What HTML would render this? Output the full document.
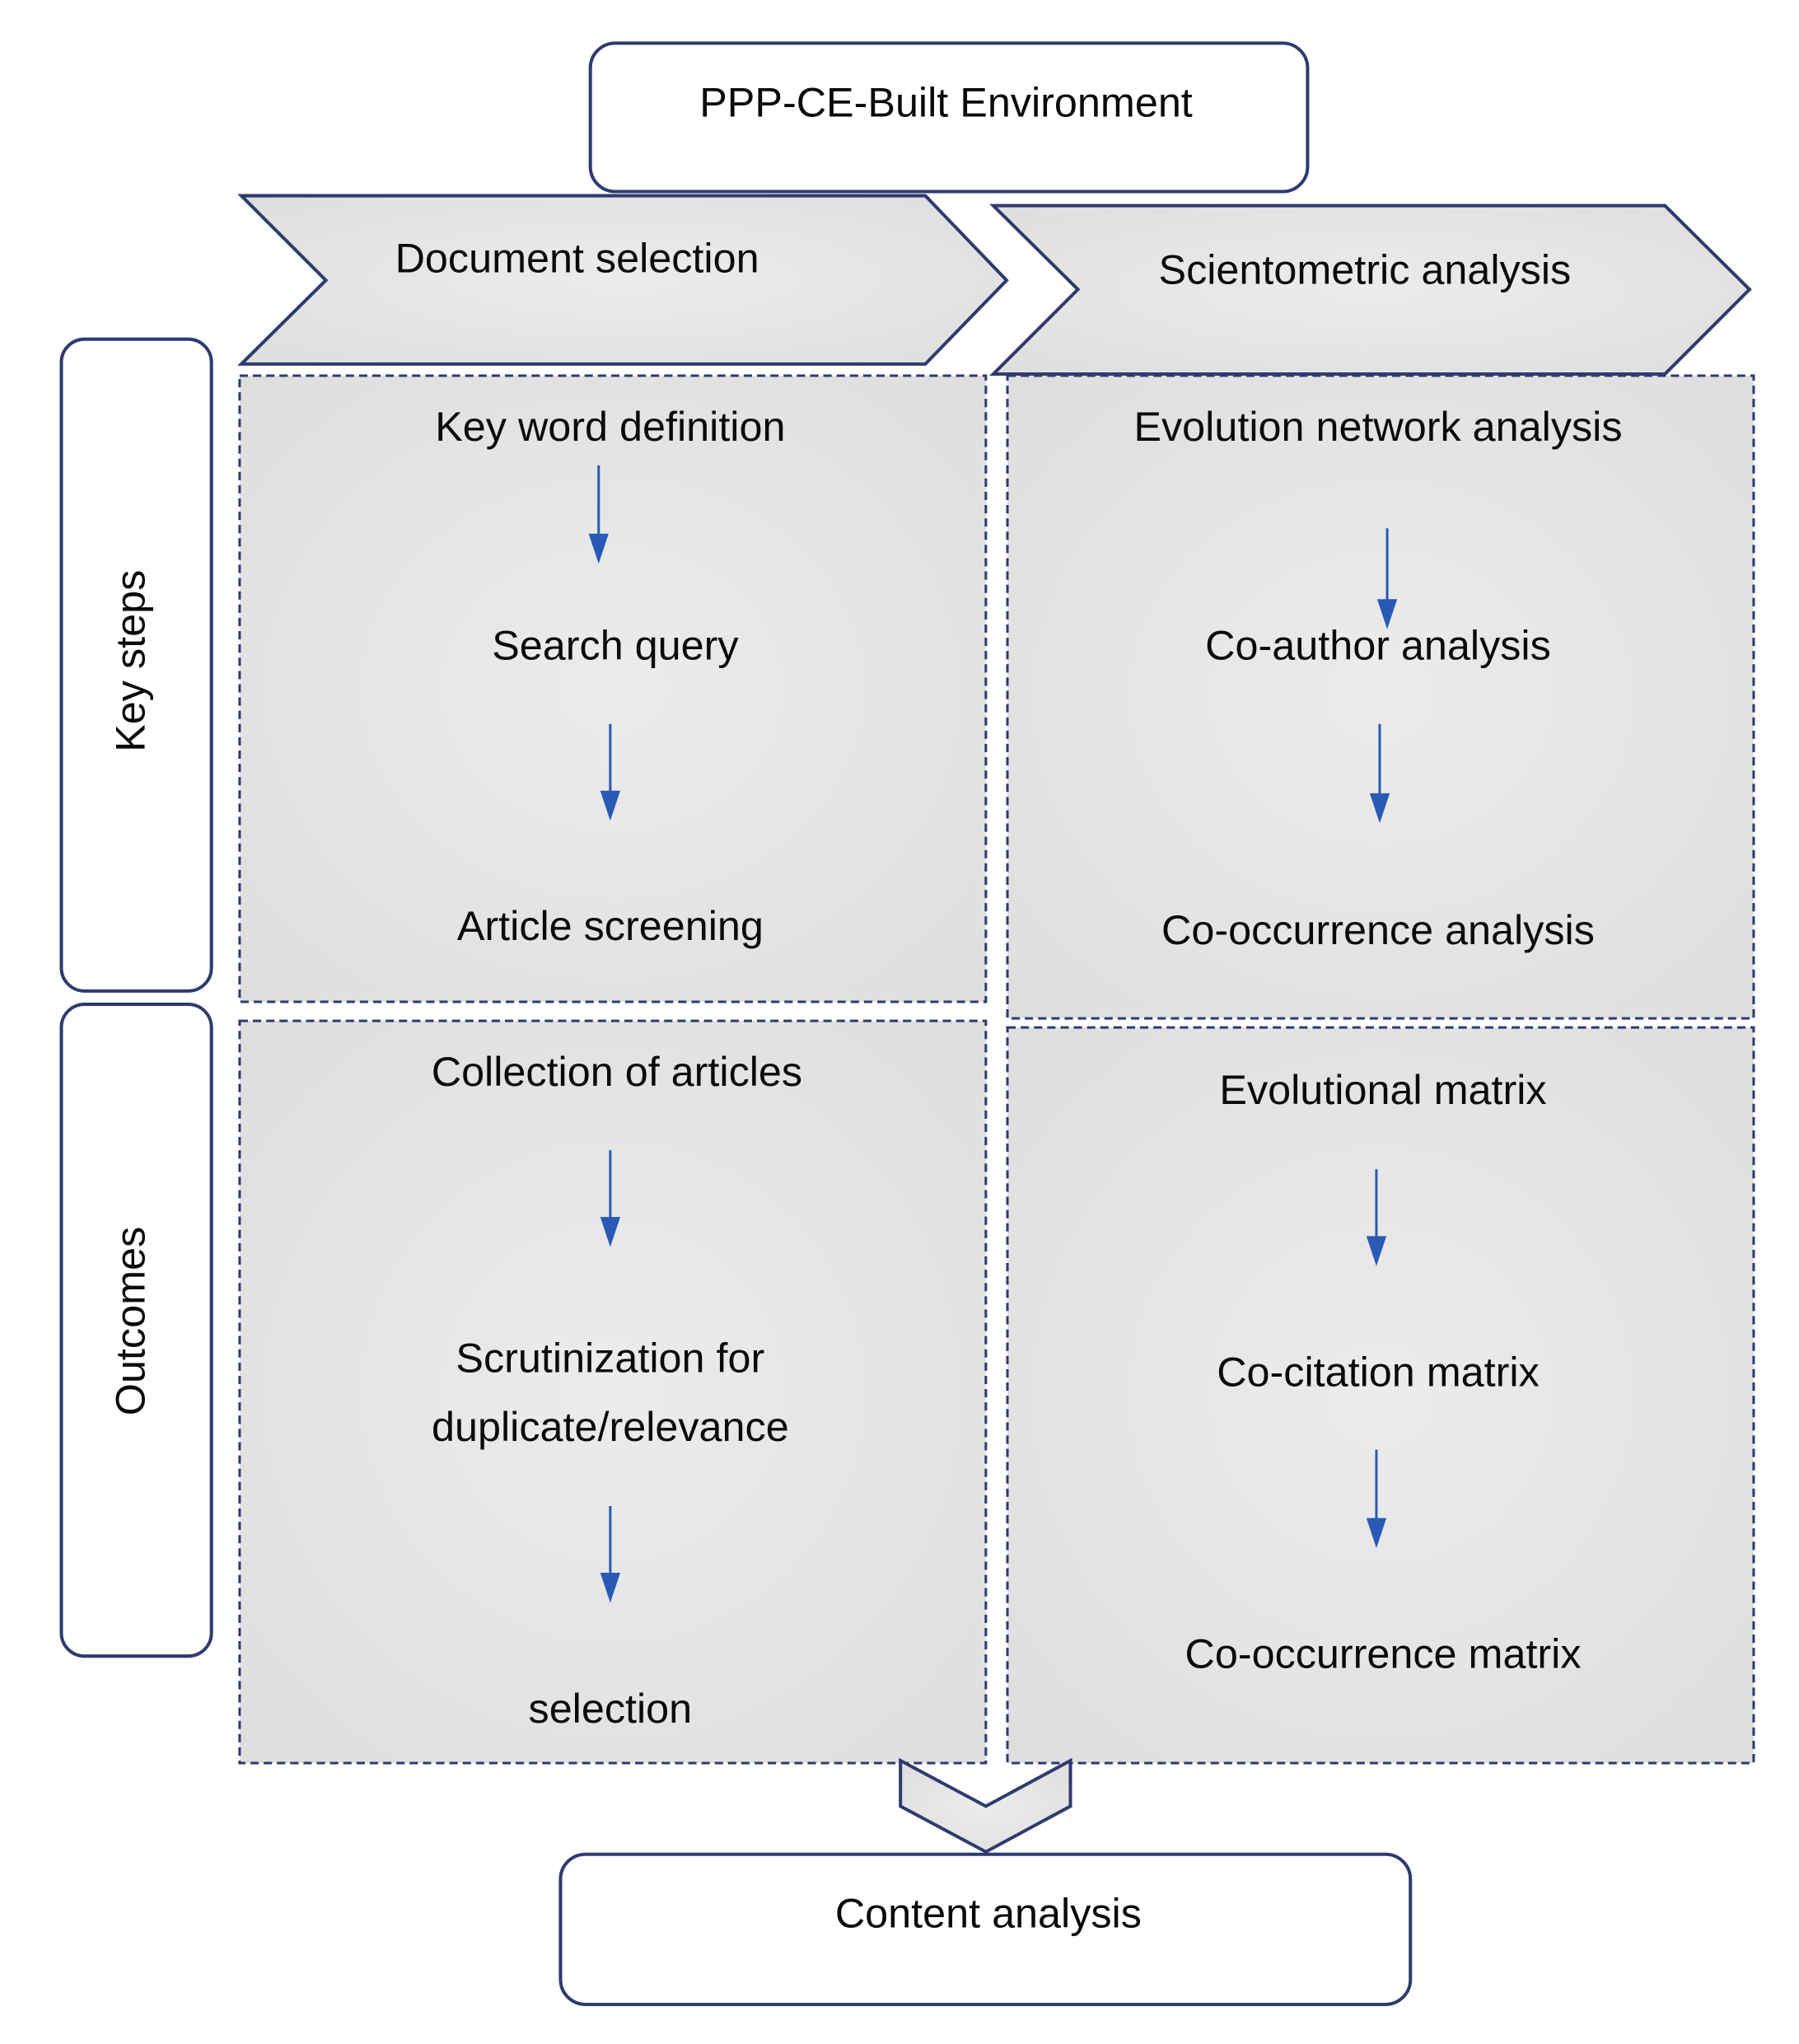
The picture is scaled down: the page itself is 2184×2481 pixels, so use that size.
<!DOCTYPE html>
<html><head><meta charset="utf-8"><style>html,body{margin:0;padding:0;background:#fff}</style></head>
<body>
<svg width="2184" height="2476" viewBox="0 0 2184 2476" xmlns="http://www.w3.org/2000/svg">
<defs>
<radialGradient id="g" cx="50%" cy="50%" r="70%"><stop offset="0" stop-color="#ececec"/><stop offset="1" stop-color="#dedede"/></radialGradient>
</defs>
<g transform="scale(1.0066)">
<g font-family="Liberation Sans, sans-serif" font-size="50" fill="#0a0a0a" text-anchor="middle" dominant-baseline="central">
<rect x="712" y="52" width="865" height="179" rx="30" fill="#fff" stroke="#2f3b6e" stroke-width="4"/>
<text x="1141" y="123">PPP-CE-Built Environment</text>
<polygon points="291,236 1116,236 1214,338 1116,439 291,439 393,338" fill="url(#g)" stroke="#2f3b6e" stroke-width="4"/>
<text x="696" y="311">Document selection</text>
<polygon points="1198,248 2008,248 2110,349 2008,451 1198,451 1300,349" fill="url(#g)" stroke="#2f3b6e" stroke-width="4"/>
<text x="1646" y="325">Scientometric analysis</text>
<g fill="url(#g)" stroke="#2f3b6e" stroke-width="3" stroke-dasharray="10,6">
<rect x="289" y="453" width="900" height="755"/>
<rect x="289" y="1231" width="900" height="895"/>
<rect x="1215" y="453" width="900" height="775"/>
<rect x="1215" y="1239" width="900" height="887"/>
</g>
<rect x="74" y="409" width="181" height="786" rx="28" fill="#fff" stroke="#2f3b6e" stroke-width="4"/>
<rect x="74" y="1211" width="181" height="786" rx="28" fill="#fff" stroke="#2f3b6e" stroke-width="4"/>
<text x="157" y="797" transform="rotate(-90 157 797)">Key steps</text>
<text x="157" y="1593" transform="rotate(-90 157 1593)">Outcomes</text>
<polygon points="1086,2123 1189,2178 1291,2123 1291,2178 1189,2233 1086,2178" fill="url(#g)" stroke="#2f3b6e" stroke-width="4"/>
<rect x="676" y="2236" width="1025" height="181" rx="30" fill="#fff" stroke="#2f3b6e" stroke-width="4"/>
<text x="1192" y="2307">Content analysis</text>
<text x="736" y="514">Key word definition</text>
<text x="742" y="778">Search query</text>
<text x="736" y="1116">Article screening</text>
<text x="1662" y="514">Evolution network analysis</text>
<text x="1662" y="778">Co-author analysis</text>
<text x="1662" y="1121">Co-occurrence analysis</text>
<text x="744" y="1292">Collection of articles</text>
<text x="736" y="1637">Scrutinization for</text>
<text x="736" y="1720">duplicate/relevance</text>
<text x="736" y="2060">selection</text>
<text x="1668" y="1314">Evolutional matrix</text>
<text x="1662" y="1654">Co-citation matrix</text>
<text x="1668" y="1994">Co-occurrence matrix</text>
</g>
<g stroke="#2a5ab5" stroke-width="3" fill="#2a5ab5">
<line x1="722" y1="561" x2="722" y2="650"/><polygon points="712,645 732,645 722,675"/>
<line x1="736" y1="873" x2="736" y2="960"/><polygon points="726,955 746,955 736,985"/>
<line x1="736" y1="1387" x2="736" y2="1474"/><polygon points="726,1469 746,1469 736,1499"/>
<line x1="736" y1="1816" x2="736" y2="1903"/><polygon points="726,1898 746,1898 736,1928"/>
<line x1="1673" y1="637" x2="1673" y2="729"/><polygon points="1663,724 1683,724 1673,754"/>
<line x1="1664" y1="873" x2="1664" y2="963"/><polygon points="1654,958 1674,958 1664,988"/>
<line x1="1660" y1="1410" x2="1660" y2="1497"/><polygon points="1650,1492 1670,1492 1660,1522"/>
<line x1="1660" y1="1748" x2="1660" y2="1837"/><polygon points="1650,1832 1670,1832 1660,1862"/>
</g>
</g>
</svg>
</body></html>
